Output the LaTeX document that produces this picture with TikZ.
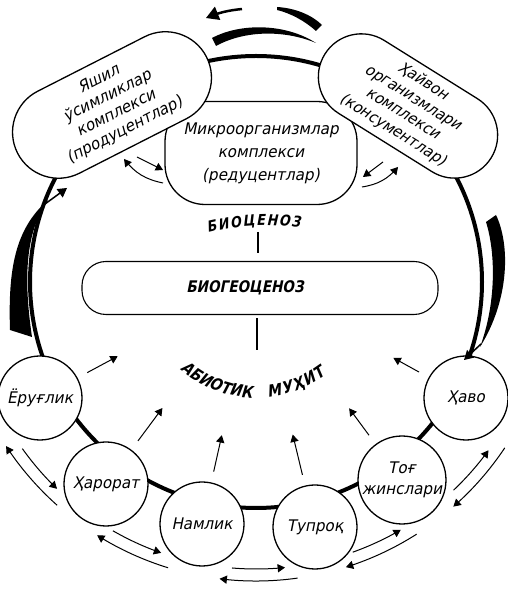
\documentclass[tikz,border=0pt]{standalone}
\usepackage{fontspec}
\newfontfamily\handfont{DejaVu Sans}[FakeSlant=0.2,FakeStretch=0.95]
\newfontfamily\capsfont{DejaVu Sans}[FakeSlant=0.2,FakeStretch=0.85]
\usepackage{tikz}
\usetikzlibrary{calc}
\usetikzlibrary{shapes}
\usetikzlibrary{arrows}
\usetikzlibrary{decorations.text}

\begin{document}
\begin{tikzpicture}[x=1pt, y=1pt]
	\tikzset{factor/.style = {circle, draw, line width = 1.3pt, fill = white, minimum size = 84pt, inner sep = 0pt, align = center, font = \handfont\fontsize{16}{21}\selectfont}}
	\tikzset{complex/.style = {rectangle, draw, line width = 1.3pt, fill = white, inner sep = 2pt, align = center}}
	\tikzset{inflow/.style = {-triangle 60, line width = 1pt, shorten <= 11pt, shorten >= 157pt}}
	\tikzset{exchange/.style = {-triangle 60, line width = 1pt}}

\useasboundingbox (0,0) rectangle (507,589);

%% Ring
\coordinate (C) at (256,307);
\draw[line width = 4pt] (C) circle (226);

%% Circulation strokes
\fill (10,259) .. controls (8,320) and (15,360) .. (48,389) .. controls (28,360) and (22,320) .. (32,252) -- cycle;
\fill (496,374) .. controls (510,345) and (510,290) .. (480,242) .. controls (496,285) and (496,335) .. (486,367) -- cycle;
\fill (212,551) .. controls (240,566) and (285,566) .. (316,546) .. controls (285,559) and (245,559) .. (216,543) -- cycle;
\fill (277,582) .. controls (295,581) and (312,574) .. (322,564) -- (316,558) .. controls (305,568) and (290,576) .. (277,579) -- cycle;
\draw[line width = 2.5pt, -triangle 60] (242,580) to[bend right = 8] (206,571);

%% Complexes
\draw (261,436) node[complex, name = microbes, rounded corners = 40pt, minimum width = 192pt, minimum height = 103pt, font = \handfont\fontsize{16}{23}\selectfont]{Микроорганизмлар\\комплекси\\(редуцентлар)};
\draw (112,484) node[complex, name = plants, rotate = 27, rounded corners = 46pt, minimum width = 212pt, minimum height = 92pt, font = \handfont\fontsize{16}{19}\selectfont]{Яшил\\ўсимликлар\\комплекси\\(продуцентлар)};
\draw (408,483) node[complex, name = animals, rotate = -32, rounded corners = 43pt, minimum width = 196pt, minimum height = 86pt, font = \handfont\fontsize{15.5}{19}\selectfont]{Ҳайвон\\организмлари\\комплекси\\(консументлар)};

%% Biogeocenosis
\draw (260,301) node[complex, name = geo, line width = 1.1pt, rounded corners = 24pt, minimum width = 356pt, minimum height = 53pt, font = \capsfont\bfseries\fontsize{16}{16}\selectfont]{БИОГЕОЦЕНОЗ\hspace*{30pt}};

\coordinate (bioc) at (258,357);
\coordinate (abio) at (257,239);
\draw[line width = 1.3pt, shorten >= 8pt] (bioc) -- (bioc |- geo.north);
\draw[line width = 1.3pt, shorten <= 3pt] (geo.south -| abio) -- (abio);

\path[decorate, decoration = {text along path, text = {|\capsfont\bfseries\fontsize{15}{15}\selectfont|БИОЦЕНОЗ}, text align = fit to path}] (208,356) to[bend left = 10] (300,361);
\path[decorate, decoration = {text along path, text = {|\capsfont\bfseries\fontsize{16.5}{16.5}\selectfont|АБИОТИК}, text align = fit to path}] ($(C)+(229:116)$) arc[start angle = 229, end angle = 268, radius = 116];
\path[decorate, decoration = {text along path, text = {|\capsfont\bfseries\fontsize{16.5}{16.5}\selectfont|МУҲИТ}, text align = fit to path}] ($(C)+(276:116)$) arc[start angle = 276, end angle = 307, radius = 116];

%% Abiotic factors
\draw (40,191) node[factor, name = light]{Ёруғлик};
\draw (106,105) node[factor, name = heat]{Ҳарорат};
\draw (202,65) node[factor, name = moist]{Намлик};
\draw (315,62) node[factor, name = soil]{Тупроқ};
\draw (402,109) node[factor, name = rock]{Тоғ\\жинслари};
\draw (466,191) node[factor, name = air]{Ҳаво};

\draw[line width = 1.5pt, -triangle 60] (45,385) -- (67,401);
\draw[line width = 1.5pt, -triangle 60] (481,245) -- (464,229);

%% Factors to the centre
\draw[inflow] (light) -- (C);
\draw[inflow] (heat) -- (C);
\draw[inflow] (moist) -- (C);
\draw[inflow] (soil) -- (C);
\draw[inflow] (rock) -- (C);
\draw[inflow] (air) -- (C);

%% Exchange between neighbours
\draw[exchange] ($(C)+(215.5:287)$) arc[start angle = 215.5, end angle = 226.1, radius = 287];
\draw[exchange] ($(C)+(228.3:299)$) arc[start angle = 228.3, end angle = 213.3, radius = 299];
\draw[exchange] ($(C)+(240.1:287)$) arc[start angle = 240.1, end angle = 250.7, radius = 287];
\draw[exchange] ($(C)+(252.9:299)$) arc[start angle = 252.9, end angle = 237.9, radius = 299];
\draw[exchange] ($(C)+(265.2:287)$) arc[start angle = 265.2, end angle = 275.8, radius = 287];
\draw[exchange] ($(C)+(278:299)$) arc[start angle = 278, end angle = 263, radius = 299];
\draw[exchange] ($(C)+(289.7:287)$) arc[start angle = 289.7, end angle = 300.3, radius = 287];
\draw[exchange] ($(C)+(302.5:299)$) arc[start angle = 302.5, end angle = 287.5, radius = 299];
\draw[exchange] ($(C)+(313.5:287)$) arc[start angle = 313.5, end angle = 324.1, radius = 287];
\draw[exchange] ($(C)+(326.3:299)$) arc[start angle = 326.3, end angle = 311.3, radius = 299];

%% Exchange with the reducers
\coordinate (pm1) at (137,432);
\coordinate (pm2) at (163,419);
\coordinate (pm3) at (163,406);
\coordinate (pm4) at (124,430);
\coordinate (am1) at (383,427);
\coordinate (am2) at (363,412);
\coordinate (am3) at (362,402);
\coordinate (am4) at (398,422);
\draw[exchange] (pm1) -- (pm2);
\draw[exchange] (pm3) to[bend left = 20] (pm4);
\draw[exchange] (am1) -- (am2);
\draw[exchange] (am3) to[bend right = 20] (am4);

\end{tikzpicture}
\end{document}
